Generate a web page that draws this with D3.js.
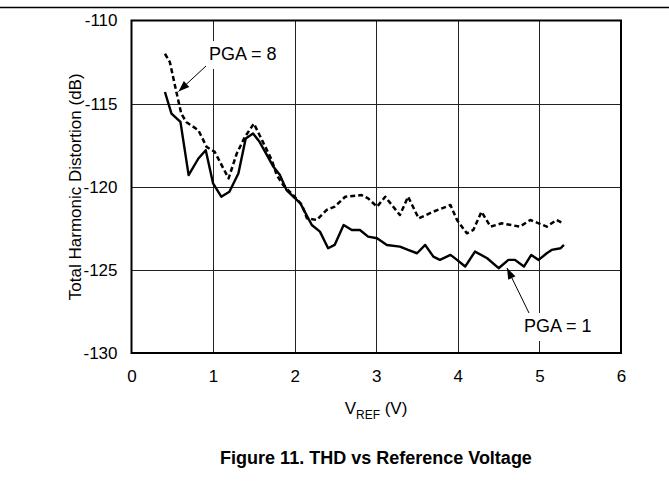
<!DOCTYPE html>
<html><head><meta charset="utf-8">
<script src="https://cdn.jsdelivr.net/npm/d3@7"></script>
<style>
body{margin:0;background:#fff;}
text{font-family:"Liberation Sans",Arial,sans-serif;}
</style></head>
<body><svg id="c" width="669" height="498"></svg>
<script>
const xTicks = [0,1,2,3,4,5,6];
const yTicks = [-110,-115,-120,-125,-130];
const vrefPGA1 = [0.41,0.49,0.60,0.70,0.82,0.91,1.00,1.10,1.20,1.31,1.40,1.49,1.57,1.74,1.82,1.90,2.07,2.21,2.31,2.41,2.49,2.60,2.70,2.80,2.90,3.01,3.13,3.29,3.39,3.50,3.60,3.70,3.78,3.91,3.99,4.09,4.21,4.36,4.50,4.62,4.70,4.81,4.90,4.99,5.09,5.15,5.26,5.30];
const thdPGA1 = [-114.3,-115.6,-116.1,-119.3,-118.3,-117.8,-119.8,-120.6,-120.3,-119.2,-117.1,-116.8,-117.3,-118.8,-119.3,-120.2,-121.0,-122.3,-122.7,-123.7,-123.5,-122.3,-122.6,-122.6,-123.0,-123.1,-123.5,-123.6,-123.8,-124.0,-123.5,-124.2,-124.4,-124.1,-124.4,-124.8,-123.9,-124.3,-124.9,-124.4,-124.4,-124.8,-124.1,-124.4,-124.0,-123.8,-123.7,-123.5];
const vrefPGA8 = [0.41,0.47,0.51,0.55,0.61,0.67,0.82,0.92,1.02,1.19,1.29,1.39,1.50,1.61,1.72,1.78,1.86,1.98,2.09,2.15,2.27,2.39,2.49,2.62,2.82,2.90,3.01,3.11,3.29,3.39,3.52,3.70,3.91,3.99,4.11,4.19,4.29,4.40,4.54,4.76,4.89,5.09,5.21,5.29];
const thdPGA8 = [-112.0,-112.5,-113.4,-114.3,-115.6,-116.1,-116.6,-117.6,-117.9,-119.5,-118.0,-117.0,-116.2,-117.3,-118.4,-119.3,-119.9,-120.5,-121.1,-121.9,-122.0,-121.4,-121.2,-120.6,-120.5,-120.7,-121.2,-120.6,-121.7,-120.6,-121.9,-121.5,-121.1,-122.0,-122.8,-122.6,-121.5,-122.4,-122.2,-122.4,-122.0,-122.4,-122.0,-122.2];
const labels = {x:"V", xsub:"REF", xend:" (V)", y:"Total Harmonic Distortion (dB)", title:"Figure 11. THD vs Reference Voltage", s1:"PGA = 1", s8:"PGA = 8"};

const svg = d3.select("#c");
const L=131.5, R=621, T=20.5, B=353;
const x = d3.scaleLinear().domain([0,6]).range([L,R]);
const y = d3.scaleLinear().domain([-130,-110]).range([B,T]);
const FF = "Liberation Sans, Arial, sans-serif";

// top rule
svg.append("line").attr("x1",0).attr("x2",669).attr("y1",7.5).attr("y2",7.5).attr("stroke","#000").attr("stroke-width",1.5);

// grid
const g = svg.append("g");
g.selectAll(".vg").data(xTicks.slice(1,-1)).enter().append("line")
 .attr("x1",d=>Math.round(x(d))+0.5).attr("x2",d=>Math.round(x(d))+0.5).attr("y1",T).attr("y2",B)
 .attr("stroke","#222").attr("stroke-width",1);
g.selectAll(".hg").data(yTicks.slice(1,-1)).enter().append("line")
 .attr("y1",d=>Math.round(y(d))+0.5).attr("y2",d=>Math.round(y(d))+0.5).attr("x1",L).attr("x2",R)
 .attr("stroke","#222").attr("stroke-width",1);

// axes labels
const xa = d3.axisBottom(x).tickValues(xTicks).tickSize(0).tickPadding(17).tickFormat(d=>String(d));
const xg = svg.append("g").attr("transform",`translate(0,${B})`).call(xa);
xg.select(".domain").remove();
xg.selectAll("text").attr("font-size",17).attr("fill","#000").attr("font-family",FF);
const ya = d3.axisLeft(y).tickValues(yTicks).tickSize(0).tickPadding(14).tickFormat(d=>String(d));
const yg = svg.append("g").attr("transform",`translate(${L},0)`).call(ya);
yg.select(".domain").remove();
yg.selectAll("text").attr("font-size",17).attr("fill","#000").attr("font-family",FF);

// lines
const line = d3.line().x(d=>x(d[0])).y(d=>y(d[1]));
const d8 = vrefPGA8.map((v,i)=>[v,thdPGA8[i]]);
const d1 = vrefPGA1.map((v,i)=>[v,thdPGA1[i]]);
svg.append("path").attr("d",line(d8)).attr("fill","none").attr("stroke","#000").attr("stroke-width",2.5).attr("stroke-dasharray","5,3").attr("stroke-linejoin","round");
svg.append("path").attr("d",line(d1)).attr("fill","none").attr("stroke","#000").attr("stroke-width",2.4).attr("stroke-linejoin","round");

// annotations
function arrow(x1,y1,x2,y2){
  svg.append("line").attr("x1",x1).attr("y1",y1).attr("x2",x2).attr("y2",y2).attr("stroke","#000").attr("stroke-width",1);
  const a=Math.atan2(y2-y1,x2-x1), len=11, w=4;
  const bx=x2-len*Math.cos(a), by=y2-len*Math.sin(a);
  const p=[[x2,y2],[bx+w*Math.sin(a),by-w*Math.cos(a)],[bx-w*Math.sin(a),by+w*Math.cos(a)]];
  svg.append("path").attr("d","M"+p.join("L")+"Z").attr("fill","#000");
}
svg.append("rect").attr("x",206).attr("y",41).attr("width",75).attr("height",28).attr("fill","#fff");
svg.append("text").attr("x",209).attr("y",60).attr("font-size",18).text(labels.s8);
arrow(206,66,178.5,91.5);
svg.append("rect").attr("x",522).attr("y",313).attr("width",78).attr("height",28).attr("fill","#fff");
svg.append("text").attr("x",524).attr("y",332).attr("font-size",18).text(labels.s1);
arrow(529,313,507,268);

// frame
svg.append("rect").attr("x",L).attr("y",T).attr("width",R-L).attr("height",B-T).attr("fill","none").attr("stroke","#000").attr("stroke-width",2);

// axis titles
const xt = svg.append("text").attr("x",376).attr("y",414).attr("text-anchor","middle").attr("font-size",17);
xt.append("tspan").text(labels.x);
xt.append("tspan").attr("font-size",12).attr("dy",5).text(labels.xsub);
xt.append("tspan").attr("dy",-5).text(labels.xend);
svg.append("text").attr("transform",`translate(81,${(T+B)/2}) rotate(-90)`).attr("text-anchor","middle").attr("font-size",17).text(labels.y);
svg.append("text").attr("x",376).attr("y",464).attr("text-anchor","middle").attr("font-size",18).attr("font-weight","bold").text(labels.title);
</script></body></html>
